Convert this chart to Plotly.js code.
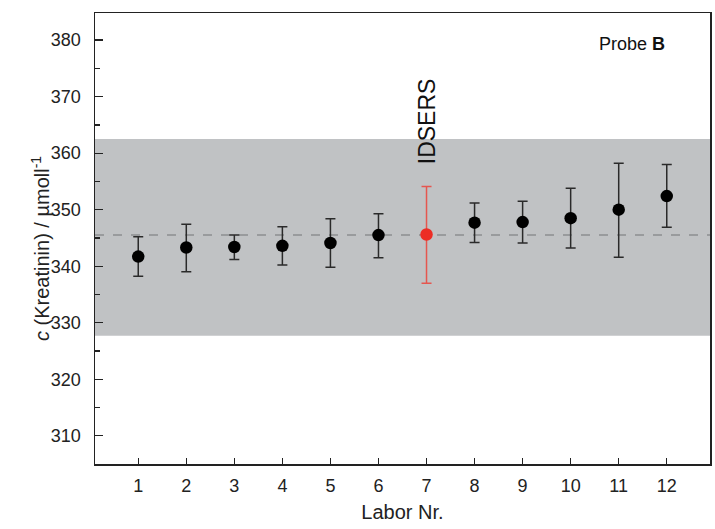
<!DOCTYPE html>
<html>
<head>
<meta charset="utf-8">
<script src="https://cdn.plot.ly/plotly-3.0.1.min.js"></script>
<style>html,body{margin:0;padding:0;background:#fff;}#chart{width:715px;height:529px;}</style>
</head>
<body>
<div id="chart"></div>
<script>
// Data
const labs = [1, 2, 3, 4, 5, 6, 7, 8, 9, 10, 11, 12];
const values = [341.7, 343.3, 343.4, 343.6, 344.1, 345.5, 345.6, 347.7, 347.8, 348.5, 350.0, 352.4];
const errUpper = [345.2, 347.4, 345.5, 347.0, 348.4, 349.3, 354.1, 351.2, 351.5, 353.8, 358.2, 358.0];
const errLower = [338.2, 339.0, 341.2, 340.2, 339.8, 341.5, 337.0, 344.2, 344.1, 343.2, 341.6, 346.9];
const refLab = 7;              // IDSERS
const meanValue = 345.5;
const bandLow = 327.7;
const bandHigh = 362.5;
const yTickVals = [310, 320, 330, 340, 350, 360, 370, 380];

const idx = labs.map((_, i) => i).filter(i => labs[i] !== refLab);
const ri = labs.indexOf(refLab);

const others = {
  x: idx.map(i => labs[i]),
  y: idx.map(i => values[i]),
  type: 'scatter', mode: 'markers',
  marker: {color: '#000', size: 12.5},
  error_y: {
    type: 'data', symmetric: false,
    array: idx.map(i => errUpper[i] - values[i]),
    arrayminus: idx.map(i => values[i] - errLower[i]),
    color: '#2a2a2a', thickness: 1.5, width: 5
  },
  showlegend: false, hoverinfo: 'x+y'
};
const ref = {
  x: [labs[ri]], y: [values[ri]],
  type: 'scatter', mode: 'markers',
  marker: {color: '#ec2d25', size: 12.5},
  error_y: {
    type: 'data', symmetric: false,
    array: [errUpper[ri] - values[ri]],
    arrayminus: [values[ri] - errLower[ri]],
    color: '#e5564f', thickness: 1.5, width: 5
  },
  showlegend: false, hoverinfo: 'x+y'
};

const FONT = "'Liberation Sans', Arial, sans-serif";
const layout = {
  width: 715, height: 529,
  margin: {l: 95, r: 5, t: 13, b: 65},
  paper_bgcolor: '#fff', plot_bgcolor: '#fff',
  font: {family: FONT, color: '#222', size: 18},
  xaxis: {
    range: [0.1, 12.9],
    tickvals: labs, ticktext: labs.map(String),
    tickfont: {family: FONT, size: 18, color: '#222'},
    ticks: 'inside', ticklen: 6, tickwidth: 1.3, tickcolor: '#222',
    showline: true, linecolor: '#222', linewidth: 1.5, mirror: true,
    showgrid: false, zeroline: false,
    ticklabelstandoff: 5,
    title: {text: 'Labor Nr.', font: {family: FONT, size: 20, color: '#222'}, standoff: 10}
  },
  yaxis: {
    range: [305, 384.8],
    tickvals: yTickVals,
    tickfont: {family: FONT, size: 18, color: '#222'},
    ticks: 'inside', ticklen: 8, tickwidth: 1.3, tickcolor: '#222',
    minor: {dtick: 5, ticks: 'inside', ticklen: 5, tickwidth: 1.2, tickcolor: '#222', showgrid: false},
    showline: true, linecolor: '#222', linewidth: 1.5, mirror: true,
    showgrid: false, zeroline: false,
    ticklabelstandoff: 9
  },
  shapes: [
    {type: 'rect', xref: 'paper', x0: 0, x1: 1, yref: 'y', y0: bandLow, y1: bandHigh,
     fillcolor: '#c0c2c4', line: {width: 0}, layer: 'below'},
    {type: 'line', xref: 'paper', x0: 0, x1: 1, yref: 'y', y0: meanValue, y1: meanValue,
     line: {color: '#8c8e90', width: 1.5, dash: 'dash'}, layer: 'below'}
  ],
  annotations: [
    {x: refLab, y: 357.6, xref: 'x', yref: 'y', text: 'IDSERS', textangle: -90,
     showarrow: false, xanchor: 'center', yanchor: 'bottom', font: {family: FONT, size: 23, color: '#111'}},
    {x: 0.873, y: 0.931, xref: 'paper', yref: 'paper', text: 'Probe <b>B</b>',
     showarrow: false, xanchor: 'center', yanchor: 'middle', font: {family: FONT, size: 18, color: '#111'}},
    {x: -0.0894, y: 0.4767, xref: 'paper', yref: 'paper',
     text: '<i>c</i> (Kreatinin) / µmoll<sup>-1</sup>', textangle: -90,
     showarrow: false, xanchor: 'center', yanchor: 'middle', font: {family: FONT, size: 20, color: '#222'}}
  ]
};

Plotly.newPlot('chart', [others, ref], layout, {displayModeBar: false, staticPlot: true});
</script>
</body>
</html>
